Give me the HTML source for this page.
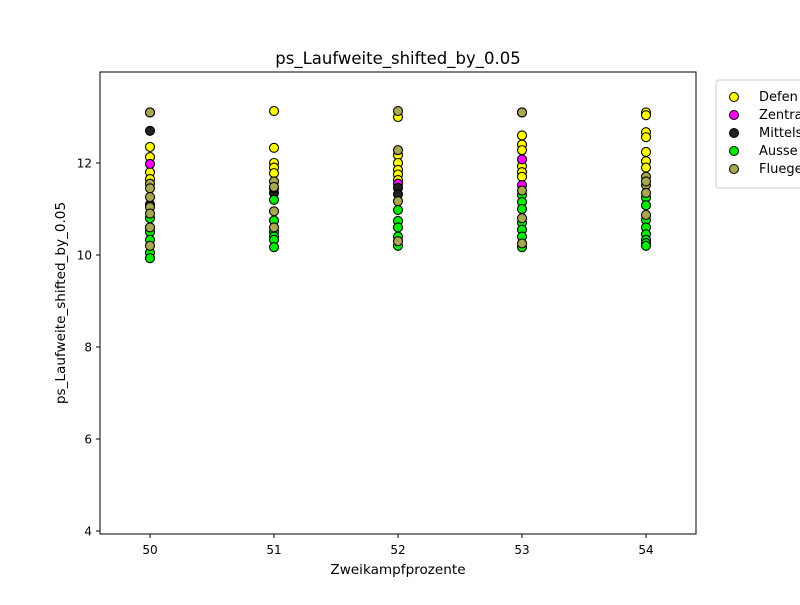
<!DOCTYPE html>
<html><head><meta charset="utf-8"><style>body{margin:0;background:#fff}svg{font-family:"DejaVu Sans","Liberation Sans",sans-serif}</style></head>
<body>
<svg id="chart" width="800" height="600" xmlns="http://www.w3.org/2000/svg">
<rect width="800" height="600" fill="#fff"/>
<text x="398" y="64" font-size="16.5" text-anchor="middle">ps_Laufweite_shifted_by_0.05</text>
<text x="398" y="574" font-size="13.6" text-anchor="middle">Zweikampfprozente</text>
<text transform="translate(65,303) rotate(-90)" font-size="13.6" text-anchor="middle">ps_Laufweite_shifted_by_0.05</text>
<g id="ticks"></g>
<g id="marks"></g>
<rect x="100" y="72" width="596" height="462" fill="none" stroke="#000" stroke-width="1"/>
<g id="legend">
<rect x="716" y="80" width="100" height="108" rx="3" fill="#fff" stroke="#ccc"/>
</g>
</svg>
<script>
const seriesNames = ["Defender","Zentral","Mittelstuermer","Aussen","Fluegel"];
const seriesLabels = ["Defen","Zentra","Mittels","Ausse","Fluege"];
const seriesColors = ["#ffff00","#ff00ff","#222222","#00ee00","#a8a850"];
const xTicks = [50,51,52,53,54];
const yTicks = [4,6,8,10,12];
const defX = [50,50,50,50,50,51,51,51,51,51,52,52,52,52,52,52,53,53,53,53,53,53,53,54,54,54,54,54,54,54];
const defY = [13.1,12.35,12.13,11.8,11.65,13.13,12.33,12.0,11.9,11.78,13.0,12.17,12.0,11.85,11.75,11.63,13.1,12.6,12.4,12.28,11.93,11.8,11.7,13.1,13.04,12.67,12.56,12.24,12.04,11.9];
const zenX = [50,52,53,53];
const zenY = [11.98,11.55,12.08,11.52];
const mitX = [50,50,51,51,52,52];
const mitY = [12.7,11.1,11.35,11.45,11.46,11.32];
const ausX = [50,50,50,50,50,50,51,51,51,51,51,51,52,52,52,52,52,53,53,53,53,53,53,53,54,54,54,54,54,54,54,54];
const ausY = [10.8,10.6,10.5,10.33,10.05,9.93,11.2,10.75,10.5,10.4,10.33,10.17,10.98,10.74,10.6,10.4,10.2,11.3,11.15,11.0,10.7,10.55,10.4,10.17,11.25,11.08,10.76,10.6,10.45,10.33,10.26,10.2];
const flgX = [50,50,50,50,50,50,50,50,51,51,51,51,52,52,52,52,53,53,53,53,54,54,54,54,54];
const flgY = [13.1,11.55,11.45,11.26,11.04,10.9,10.6,10.2,11.6,11.48,10.95,10.6,13.13,12.28,11.17,10.3,13.1,11.4,10.8,10.25,11.7,11.52,11.35,10.87,11.6];
const seriesX = [defX,zenX,mitX,ausX,flgX];
const seriesY = [defY,zenY,mitY,ausY,flgY];
function xs(v){return 150+(v-50)*124;}
function ys(v){return 255-(v-10)*46;}
const NS="http://www.w3.org/2000/svg";
const ticks=document.getElementById('ticks');
xTicks.forEach(t=>{
  const l=document.createElementNS(NS,'line');
  l.setAttribute('x1',xs(t));l.setAttribute('x2',xs(t));l.setAttribute('y1',534);l.setAttribute('y2',538);l.setAttribute('stroke','#000');
  
  
  ticks.appendChild(l);
  const tx=document.createElementNS(NS,'text');
  tx.setAttribute('x',xs(t));tx.setAttribute('y',554);tx.setAttribute('font-size','12');tx.setAttribute('text-anchor','middle');tx.textContent=t;
  
  
  ticks.appendChild(tx);
});
yTicks.forEach(t=>{
  const l=document.createElementNS(NS,'line');
  l.setAttribute('x1',96);l.setAttribute('x2',100);l.setAttribute('y1',ys(t));l.setAttribute('y2',ys(t));l.setAttribute('stroke','#000');
  
  
  ticks.appendChild(l);
  const tx=document.createElementNS(NS,'text');
  tx.setAttribute('x',92);tx.setAttribute('y',ys(t)+4.5);tx.setAttribute('font-size','12');tx.setAttribute('text-anchor','end');tx.textContent=t;
  
  
  ticks.appendChild(tx);
});
const marks=document.getElementById('marks');
seriesNames.forEach((n,i)=>{
  const g=document.createElementNS(NS,'g');
  
  
  seriesX[i].forEach((x,j)=>{
    const c=document.createElementNS(NS,'circle');
    c.setAttribute('cx',xs(x));c.setAttribute('cy',ys(seriesY[i][j]));c.setAttribute('r',4.5);
    c.setAttribute('fill',seriesColors[i]);c.setAttribute('stroke','#000');c.setAttribute('stroke-width','1.1');
    
    
    g.appendChild(c);
  });
  marks.appendChild(g);
});
const leg=document.getElementById('legend');
seriesNames.forEach((n,i)=>{
  const y=95+i*18;
  const c=document.createElementNS(NS,'circle');
  c.setAttribute('cx',734);c.setAttribute('cy',y+2);c.setAttribute('r',4.5);
  c.setAttribute('fill',seriesColors[i]);c.setAttribute('stroke','#000');
  
  
  leg.appendChild(c);
  const t=document.createElementNS(NS,'text');
  t.setAttribute('x',759);t.setAttribute('y',y+6);t.setAttribute('font-size','13');t.textContent=seriesLabels[i];
  
  
  leg.appendChild(t);
});
</script>
</body></html>
